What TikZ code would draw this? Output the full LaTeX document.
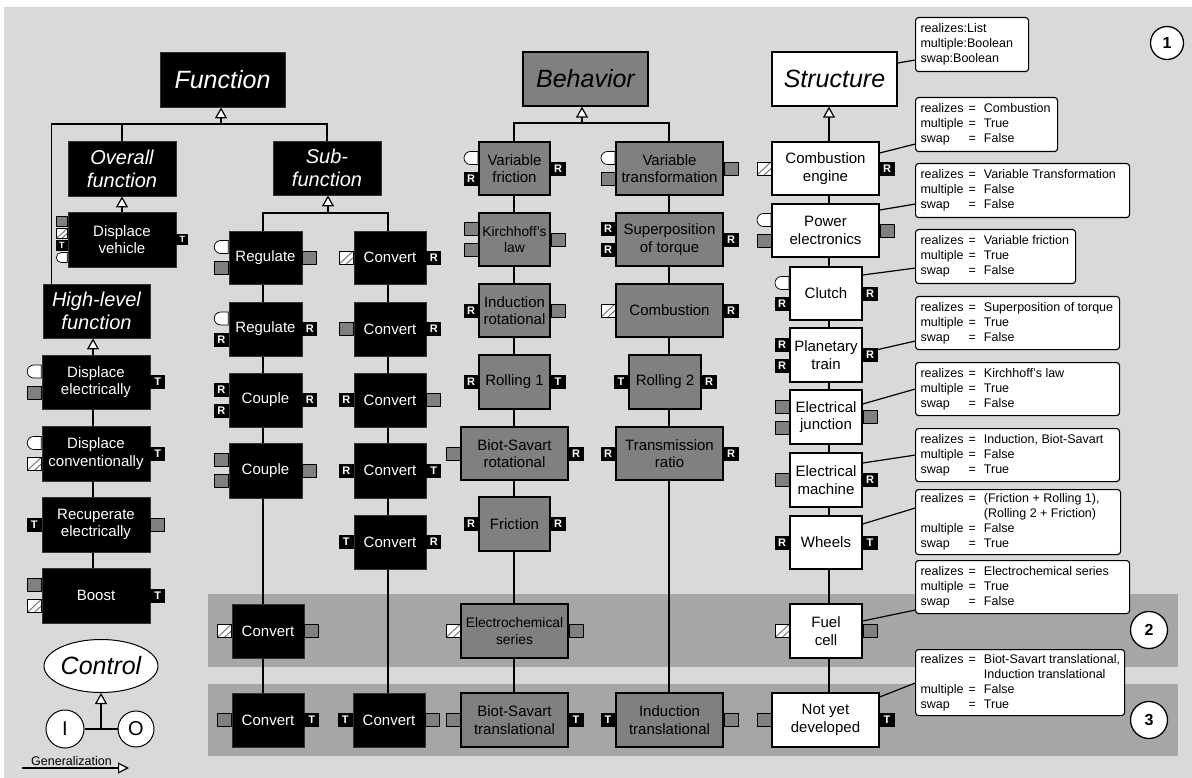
\documentclass[tikz,border=0pt]{standalone}
\usepackage{fontspec}
\setmainfont{Liberation Sans}
\usetikzlibrary{arrows.meta,shapes.misc,shapes.geometric,calc,backgrounds}

\definecolor{bg}{HTML}{D9D9D9}
\definecolor{band}{HTML}{A6A6A6}
\definecolor{bgray}{HTML}{808080}
\definecolor{hatchc}{HTML}{6E6E6E}

\newcommand\setfs[2]{\fontsize{#1}{#2}\selectfont}
% ports on the west / east side of a box: box, suffix, style, vertical shift, label
\newcommand\portW[5]{\node[#3,anchor=east] (#1-#2) at ([yshift=#4pt]#1.west) {#5};}
\newcommand\portE[5]{\node[#3,anchor=west] (#1-#2) at ([yshift=#4pt]#1.east) {#5};}
% left-aligned attribute table inside a note of the given width
\newcommand\ntext[2]{\makebox[\dimexpr#1pt-10pt\relax][l]{\begin{tabular}{@{}l@{\hspace{5pt}=\hspace{8pt}}l@{}}#2\end{tabular}}}

\tikzset{
  conn/.style={draw=black, line width=1.2pt},
  gen/.style={conn, -{Triangle[fill=white, length=11pt, width=12pt]}},
  cell/.style 2 args={minimum width=#1pt, minimum height=#2pt, inner sep=1pt, align=center, font=\setfs{15}{17.5}},
  fblk/.style={fill=black, draw=black!80, line width=0.8pt, text=white},
  bgr/.style={fill=bgray, draw=black, line width=1.3pt, text=black},
  swh/.style={fill=white, draw=black, line width=1.3pt, text=black},
  ttl/.style={font=\itshape\setfs{25}{28}},
  mtl/.style={font=\itshape\setfs{20}{23}},
  smallfont/.style={font=\setfs{13.8}{16.5}},
  port/.style={draw=black, line width=0.7pt, minimum width=14pt, minimum height=13pt, inner sep=0pt, font=\bfseries\setfs{11}{11}},
  pg/.style={port, fill=bgray},
  pk/.style={port, fill=black, text=white},
  ph/.style={port, fill=white, path picture={
      \draw[hatchc, line width=0.9pt] (path picture bounding box.south west) -- (path picture bounding box.north east);
      \draw[hatchc, line width=0.9pt]
        ($(path picture bounding box.south west)!0.5!(path picture bounding box.south east)$) --
        ($(path picture bounding box.south east)!0.5!(path picture bounding box.north east)$);}},
  pc/.style={port, fill=white, rounded rectangle, rounded rectangle right arc=none},
  tinyport/.style={minimum width=11pt, minimum height=10pt, font=\bfseries\setfs{9}{9}},
  notebox/.style={draw=black, line width=1.1pt, fill=white, rounded corners=3pt, anchor=north west,
      inner xsep=5pt, inner ysep=1pt, font=\setfs{12.5}{15}},
  numc/.style={circle, draw=black, fill=white, line width=1.3pt, inner sep=0pt, font=\bfseries\setfs{16}{16}},
}

\begin{document}
\begin{tikzpicture}[x=1pt,y=-1pt]
\useasboundingbox (0,0) rectangle (1192,778);

\begin{pgfonlayer}{background}
  \fill[bg] (4,7) rectangle (1192,778);
  \fill[band] (208,594) rectangle (1178,667);
  \fill[band] (208,684) rectangle (1178,756);
\end{pgfonlayer}

% column spines
\coordinate (spF) at (93,0);
\coordinate (spH) at (52,0);
\coordinate (spR) at (263,0);
\coordinate (spC) at (388,0);
\coordinate (spB1) at (514,0);
\coordinate (spB2) at (669,0);
\coordinate (spS) at (829,0);

% ---------- Function ----------
\node[fblk, cell={125}{55}, ttl] (fun) at (222.5,79.5) {Function};
\node[fblk, cell={108}{55}, mtl] (ovr) at (122,168.5) {Overall\\function};
\node[fblk, cell={108}{55}] (dv) at (122,239.5) {Displace\\vehicle};
\node[fblk, cell={107}{54}, mtl] (hl) at (96.5,311) {High-level\\function};
\node[fblk, cell={108}{54}] (de) at (96,382) {Displace\\electrically};
\node[fblk, cell={108}{55}] (dc) at (96,453.5) {Displace\\conventionally};
\node[fblk, cell={108}{55}] (re) at (96,524.5) {Recuperate\\electrically};
\node[fblk, cell={108}{55}] (bo) at (96,595.5) {Boost};

\node[fblk, cell={108}{54}, mtl] (sub) at (327,168) {Sub-\\function};
\node[fblk, cell={73}{53}] (reg1) at (265.5,257.5) {Regulate};
\node[fblk, cell={73}{54}] (reg2) at (265.5,329) {Regulate};
\node[fblk, cell={73}{54}] (cp1) at (265.5,400) {Couple};
\node[fblk, cell={73}{55}] (cp2) at (265.5,470.5) {Couple};
\node[fblk, cell={72}{54}] (cvb2) at (268,631) {Convert};
\node[fblk, cell={72}{54}] (cvb3a) at (268,720) {Convert};
\node[fblk, cell={72}{53}] (cv1) at (390,257.5) {Convert};
\node[fblk, cell={72}{54}] (cv2) at (390,329) {Convert};
\node[fblk, cell={72}{54}] (cv3) at (390,400) {Convert};
\node[fblk, cell={72}{55}] (cv4) at (390,470.5) {Convert};
\node[fblk, cell={72}{54}] (cv5) at (390,542) {Convert};
\node[fblk, cell={72}{54}] (cvb3b) at (389,720) {Convert};

% ---------- Behavior ----------
\node[bgr, cell={125}{54}, ttl] (beh) at (585.5,79) {Behavior};
\node[bgr, cell={71}{53}] (vf) at (514.5,168.5) {Variable\\friction};
\node[bgr, cell={71}{53}, smallfont] (kl) at (514.5,239.5) {Kirchhoff's\\law};
\node[bgr, cell={71}{53}] (ir) at (514.5,310.5) {Induction\\rotational};
\node[bgr, cell={71}{54}] (r1) at (514.5,382) {Rolling 1};
\node[bgr, cell={107}{53}] (bsr) at (514.5,453.5) {Biot-Savart\\rotational};
\node[bgr, cell={71}{54}] (fr) at (514.5,524) {Friction};
\node[bgr, cell={107}{54}, smallfont] (ecs) at (514.5,631) {Electrochemical\\series};
\node[bgr, cell={107}{54}] (bst) at (514.5,720) {Biot-Savart\\translational};
\node[bgr, cell={107}{53}] (vt) at (669.5,168.5) {Variable\\transformation};
\node[bgr, cell={107}{53}] (sp) at (669.5,239.5) {Superposition\\of torque};
\node[bgr, cell={107}{53}] (cb) at (669.5,310.5) {Combustion};
\node[bgr, cell={72}{54}] (r2) at (665,382) {Rolling 2};
\node[bgr, cell={107}{53}] (tr) at (669.5,453.5) {Transmission\\ratio};
\node[bgr, cell={107}{54}] (it) at (669.5,720) {Induction\\translational};

% ---------- Structure ----------
\node[swh, cell={125}{54}, ttl] (st) at (834.5,79) {Structure};
\node[swh, cell={107}{53}] (ce) at (825.5,168.5) {Combustion\\engine};
\node[swh, cell={107}{53}] (pe) at (825.5,230.5) {Power\\electronics};
\node[swh, cell={72}{53}] (cl) at (826,293.5) {Clutch};
\node[swh, cell={72}{54}] (pt) at (826,355) {Planetary\\train};
\node[swh, cell={72}{54}] (ej) at (826,417) {Electrical\\junction};
\node[swh, cell={72}{54}] (em) at (826,480) {Electrical\\machine};
\node[swh, cell={72}{53}] (wh) at (826,542.5) {Wheels};
\node[swh, cell={72}{54}] (fc) at (826,631) {Fuel\\cell};
\node[swh, cell={107}{54}] (nyd) at (825.5,720) {Not yet\\developed};

% ---------- ports ----------
\portW{dv}{a}{pg,tinyport}{18}{}
\portW{dv}{b}{ph,tinyport}{6}{}
\portW{dv}{c}{pk,tinyport}{-6}{T}
\portW{dv}{d}{pc,tinyport}{-18}{}
\portE{dv}{e}{pk,tinyport}{0}{T}
\portW{de}{a}{pc}{10.5}{}   \portW{de}{b}{pg}{-10.5}{}  \portE{de}{c}{pk}{0}{T}
\portW{dc}{a}{pc}{10.5}{}   \portW{dc}{b}{ph}{-10.5}{}  \portE{dc}{c}{pk}{0}{T}
\portW{re}{a}{pk}{0}{T}     \portE{re}{b}{pg}{0}{}
\portW{bo}{a}{pg}{10.5}{}   \portW{bo}{b}{ph}{-10.5}{}  \portE{bo}{c}{pk}{0}{T}

\portW{reg1}{a}{pc}{10.5}{} \portW{reg1}{b}{pg}{-10.5}{} \portE{reg1}{c}{pg}{0}{}
\portW{reg2}{a}{pc}{10.5}{} \portW{reg2}{b}{pk}{-10.5}{R} \portE{reg2}{c}{pk}{0}{R}
\portW{cp1}{a}{pk}{10.5}{R} \portW{cp1}{b}{pk}{-10.5}{R} \portE{cp1}{c}{pk}{0}{R}
\portW{cp2}{a}{pg}{10.5}{}  \portW{cp2}{b}{pg}{-10.5}{}  \portE{cp2}{c}{pg}{0}{}
\portW{cvb2}{a}{ph}{0}{}    \portE{cvb2}{b}{pg}{0}{}
\portW{cvb3a}{a}{pg}{0}{}   \portE{cvb3a}{b}{pk}{0}{T}
\portW{cv1}{a}{ph}{0}{}     \portE{cv1}{b}{pk}{0}{R}
\portW{cv2}{a}{pg}{0}{}     \portE{cv2}{b}{pk}{0}{R}
\portW{cv3}{a}{pk}{0}{R}    \portE{cv3}{b}{pg}{0}{}
\portW{cv4}{a}{pk}{0}{R}    \portE{cv4}{b}{pk}{0}{T}
\portW{cv5}{a}{pk}{0}{T}    \portE{cv5}{b}{pk}{0}{R}
\portW{cvb3b}{a}{pk}{0}{T}  \portE{cvb3b}{b}{pg}{0}{}

\portW{vf}{a}{pc}{10.5}{}   \portW{vf}{b}{pk}{-10.5}{R} \portE{vf}{c}{pk}{0}{R}
\portW{vt}{a}{pc}{10.5}{}   \portW{vt}{b}{pg}{-10.5}{}  \portE{vt}{c}{pg}{0}{}
\portW{kl}{a}{pg}{10.5}{}   \portW{kl}{b}{pg}{-10.5}{}  \portE{kl}{c}{pg}{0}{}
\portW{sp}{a}{pk}{10.5}{R}  \portW{sp}{b}{pk}{-10.5}{R} \portE{sp}{c}{pk}{0}{R}
\portW{ir}{a}{pk}{0}{R}     \portE{ir}{b}{pg}{0}{}
\portW{cb}{a}{ph}{0}{}      \portE{cb}{b}{pk}{0}{R}
\portW{r1}{a}{pk}{0}{R}     \portE{r1}{b}{pk}{0}{T}
\portW{r2}{a}{pk}{0}{T}     \portE{r2}{b}{pk}{0}{R}
\portW{bsr}{a}{pg}{0}{}     \portE{bsr}{b}{pk}{0}{R}
\portW{tr}{a}{pk}{0}{R}     \portE{tr}{b}{pk}{0}{R}
\portW{fr}{a}{pk}{0}{R}     \portE{fr}{b}{pk}{0}{R}
\portW{ecs}{a}{ph}{0}{}     \portE{ecs}{b}{pg}{0}{}
\portW{bst}{a}{pg}{0}{}     \portE{bst}{b}{pk}{0}{T}
\portW{it}{a}{pk}{0}{T}     \portE{it}{b}{pg}{0}{}

\portW{ce}{a}{ph}{0}{}      \portE{ce}{b}{pk}{0}{R}
\portW{pe}{a}{pc}{10.5}{}   \portW{pe}{b}{pg}{-10.5}{}  \portE{pe}{c}{pg}{0}{}
\portW{cl}{a}{pc}{10.5}{}   \portW{cl}{b}{pk}{-10.5}{R} \portE{cl}{c}{pk}{0}{R}
\portW{pt}{a}{pk}{10.5}{R}  \portW{pt}{b}{pk}{-10.5}{R} \portE{pt}{c}{pk}{0}{R}
\portW{ej}{a}{pg}{10.5}{}   \portW{ej}{b}{pg}{-10.5}{}  \portE{ej}{c}{pg}{0}{}
\portW{em}{a}{pg}{0}{}      \portE{em}{b}{pk}{0}{R}
\portW{wh}{a}{pk}{0}{R}     \portE{wh}{b}{pk}{0}{T}
\portW{fc}{a}{ph}{0}{}      \portE{fc}{b}{pg}{0}{}
\portW{nyd}{a}{pg}{0}{}     \portE{nyd}{b}{pk}{0}{T}

% ---------- attribute notes ----------
\node[notebox, minimum width=113pt, minimum height=54pt] (n0) at (915,17)
  {\makebox[103pt][l]{\begin{tabular}{@{}l@{}}realizes:List\\multiple:Boolean\\swap:Boolean\end{tabular}}};
\node[notebox, minimum width=142pt, minimum height=54pt] (n1) at (915,97)
  {\ntext{142}{realizes & Combustion\\ multiple & True\\ swap & False}};
\node[notebox, minimum width=214pt, minimum height=54pt] (n2) at (915,163)
  {\ntext{214}{realizes & Variable Transformation\\ multiple & False\\ swap & False}};
\node[notebox, minimum width=160pt, minimum height=54pt] (n3) at (915,229)
  {\ntext{160}{realizes & Variable friction\\ multiple & True\\ swap & False}};
\node[notebox, minimum width=204pt, minimum height=53pt] (n4) at (915,296)
  {\ntext{204}{realizes & Superposition of torque\\ multiple & True\\ swap & False}};
\node[notebox, minimum width=204pt, minimum height=53pt] (n5) at (915,362)
  {\ntext{204}{realizes & Kirchhoff's law\\ multiple & True\\ swap & False}};
\node[notebox, minimum width=204pt, minimum height=53pt] (n6) at (915,428)
  {\ntext{204}{realizes & Induction, Biot-Savart\\ multiple & False\\ swap & True}};
\node[notebox, minimum width=205pt, minimum height=65pt] (n7) at (915,489)
  {\ntext{205}{realizes & (Friction + Rolling 1),\\ \multicolumn{1}{@{}l@{\hspace{18.3pt}}}{} & (Rolling 2 + Friction)\\ multiple & False\\ swap & True}};
\node[notebox, minimum width=214pt, minimum height=53pt] (n8) at (915,560)
  {\ntext{214}{realizes & Electrochemical series\\ multiple & True\\ swap & False}};
\node[notebox, minimum width=209pt, minimum height=66pt] (n9) at (915,649)
  {\ntext{209}{realizes & Biot-Savart translational,\\ \multicolumn{1}{@{}l@{\hspace{18.3pt}}}{} & Induction translational\\ multiple & False\\ swap & True}};

% ---------- numbered markers ----------
\node[numc, minimum size=33pt] (c1) at (1167,43) {1};
\node[numc, minimum size=37pt] (c2) at (1149,630) {2};
\node[numc, minimum size=37pt] (c3) at (1149,720) {3};

% ---------- control ----------
\node[ellipse, draw=black, fill=white, line width=1pt, minimum width=108pt, minimum height=53pt,
      inner sep=0pt, font=\itshape\setfs{25}{25}] (ctl) at (101,666) {Control};
\node[circle, draw=black, fill=white, line width=1pt, minimum size=38pt, inner sep=0pt,
      font=\setfs{20}{20}] (cin) at (65,729) {I};
\node[circle, draw=black, fill=white, line width=1pt, minimum size=36pt, inner sep=0pt,
      font=\setfs{20}{20}] (cout) at (136,729) {O};
\coordinate (cj) at (101,729);

% legend
\coordinate (lg0) at (22,768);
\coordinate (lg1) at (129,768);
\node[anchor=base, inner sep=0pt, font=\setfs{12.5}{12.5}] (lgt) at (71.5,765) {Generalization};

% ---------- connectors ----------
\begin{pgfonlayer}{background}
  \coordinate (fj) at (221,124);
  \draw[gen] (fj) -- (fj |- fun.south);
  \draw[conn] ([xshift=9pt]hl.north west) |- (fj) -| (sub.north);
  \draw[conn] (ovr.north) -- (ovr.north |- fj);
  \draw[gen] (dv.north) -- (ovr.south);
  \draw[gen] (de.north -| spF) -- (hl.south -| spF);
  \foreach \a/\b in {de/dc, dc/re, re/bo}
    \draw[conn] (\a.south -| spF) -- (\b.north -| spF);

  \coordinate (sj) at (328,213);
  \draw[gen] (sj) -- (sj |- sub.south);
  \draw[conn] (reg1.north -| spR) |- (sj) -| (cv1.north -| spC);
  \foreach \a/\b in {reg1/reg2, reg2/cp1, cp1/cp2, cp2/cvb2, cvb2/cvb3a}
    \draw[conn] (\a.south -| spR) -- (\b.north -| spR);
  \foreach \a/\b in {cv1/cv2, cv2/cv3, cv3/cv4, cv4/cv5, cv5/cvb3b}
    \draw[conn] (\a.south -| spC) -- (\b.north -| spC);

  \coordinate (bj) at (582,123);
  \draw[gen] (bj) -- (bj |- beh.south);
  \draw[conn] (vf.north -| spB1) |- (bj) -| (vt.north -| spB2);
  \foreach \a/\b in {vf/kl, kl/ir, ir/r1, r1/bsr, bsr/fr, fr/ecs, ecs/bst}
    \draw[conn] (\a.south -| spB1) -- (\b.north -| spB1);
  \foreach \a/\b in {vt/sp, sp/cb, cb/r2, r2/tr, tr/it}
    \draw[conn] (\a.south -| spB2) -- (\b.north -| spB2);

  \draw[gen] (ce.north -| spS) -- (st.south -| spS);
  \foreach \a/\b in {ce/pe, pe/cl, cl/pt, pt/ej, ej/em, em/wh, wh/fc, fc/nyd}
    \draw[conn] (\a.south -| spS) -- (\b.north -| spS);

  % note links
  \draw[conn] ([yshift=16pt]st.east) -- ([yshift=12pt]n0.south west);
  \draw[conn] ([yshift=15.5pt]ce.east) -- ([yshift=8pt]n1.south west);
  \draw[conn] ([yshift=20.5pt]pe.east) -- ([yshift=14pt]n2.south west);
  \draw[conn] ([yshift=18.5pt]cl.east) -- ([yshift=16pt]n3.south west);
  \draw[conn] ([yshift=2pt]pt.east) -- ([yshift=9pt]n4.south west);
  \draw[conn] ([yshift=13pt]ej.east) -- ([yshift=27pt]n5.south west);
  \draw[conn] ([yshift=17pt]em.east) -- ([yshift=27pt]n6.south west);
  \draw[conn] ([yshift=18.5pt]wh.east) -- ([yshift=47pt]n7.south west);
  \draw[conn] ([yshift=10pt]fc.east) -- ([yshift=4pt]n8.south west);
  \draw[conn] ([yshift=23pt]nyd.east) -- ([yshift=33pt]n9.south west);

  % control group
  \draw[conn] (cin) -- (cout);
  \draw[gen] (cj) -- (ctl.south);
  \draw[conn, -{Triangle[fill=white, length=11pt, width=11pt]}] (lg0) -- (lg1);
\end{pgfonlayer}
\end{tikzpicture}
\end{document}
